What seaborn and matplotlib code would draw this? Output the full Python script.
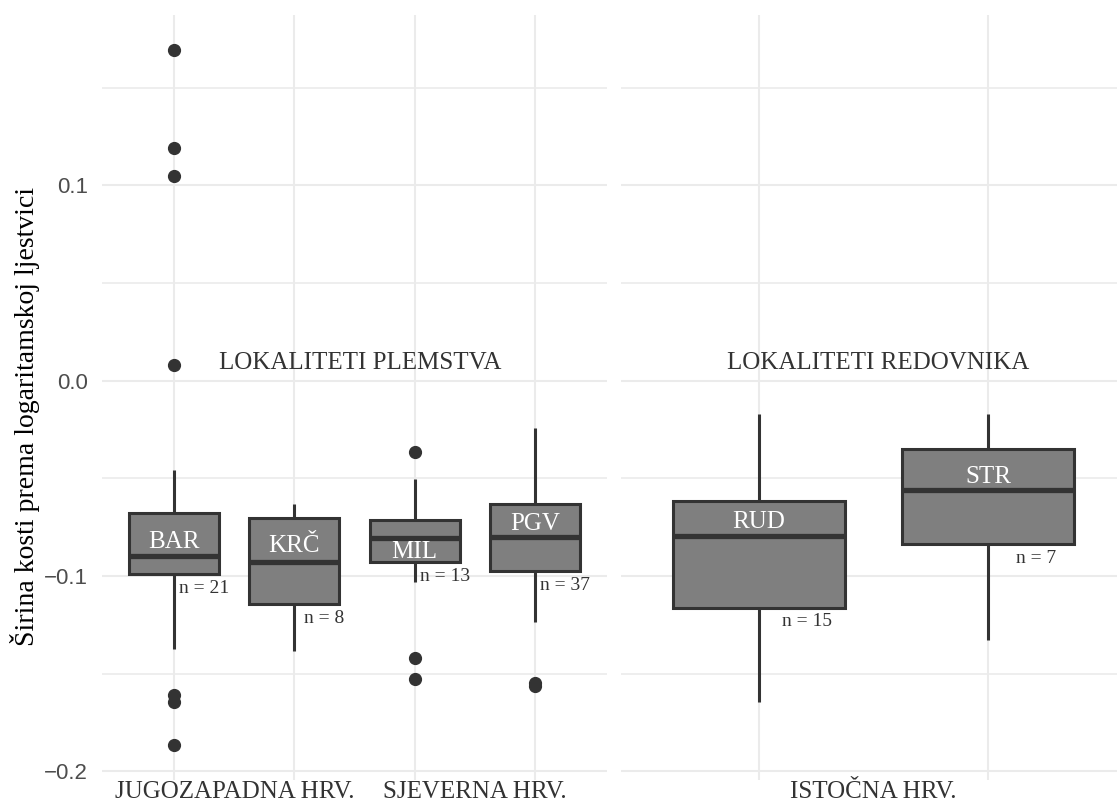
import numpy as np
import pandas as pd
import matplotlib.pyplot as plt
import seaborn as sns

# bone width on log scale, one list per site
bar = [-0.1867, -0.1645, -0.161, -0.1374, -0.118, -0.099, -0.097, -0.095, -0.093, -0.091,
       -0.090, -0.086, -0.081, -0.077, -0.072, -0.068, -0.046, 0.0082, 0.105, 0.119, 0.1694]
krc = [-0.1383, -0.118, -0.1134, -0.100, -0.086, -0.072, -0.0644, -0.0631]
mil = [-0.1526, -0.142, -0.1033, -0.093, -0.089, -0.085, -0.0807, -0.077, -0.074,
       -0.0715, -0.060, -0.0506, -0.0366]
pgv = [-0.1562, -0.1547, -0.1238, -0.118, -0.112, -0.108, -0.104, -0.101, -0.099, -0.0976,
       -0.096, -0.094, -0.092, -0.090, -0.088, -0.086, -0.084, -0.082, -0.0803,
       -0.079, -0.077, -0.075, -0.073, -0.071, -0.069, -0.067, -0.065, -0.0631,
       -0.060, -0.057, -0.054, -0.050, -0.046, -0.041, -0.035, -0.030, -0.0243]
rud = [-0.1648, -0.140, -0.125, -0.1184, -0.1144, -0.105, -0.092, -0.0798, -0.075, -0.068,
       -0.0635, -0.0595, -0.045, -0.030, -0.0169]
stra = [-0.1327, -0.0869, -0.0809, -0.0559, -0.0382, -0.0322, -0.0169]

left_sites = ['BAR', 'KRČ', 'MIL', 'PGV']
right_sites = ['RUD', 'STR']
left_regions = ['JUGOZAPADNA HRV.', 'SJEVERNA HRV.']
right_regions = ['ISTOČNA HRV.']
panel_titles = ['LOKALITETI PLEMSTVA', 'LOKALITETI REDOVNIKA']

values = {'BAR': bar, 'KRČ': krc, 'MIL': mil, 'PGV': pgv, 'RUD': rud, 'STR': stra}
df = pd.DataFrame([(s, v) for s, vals in values.items() for v in vals],
                  columns=['site', 'value'])

# where the white site name sits relative to the median
label_offset = {'BAR': 0.0075, 'KRČ': 0.0084, 'MIL': -0.007, 'PGV': 0.007,
                'RUD': 0.0075, 'STR': 0.0067}

sns.set_style('white')
plt.rcParams['font.family'] = ['Liberation Serif', 'DejaVu Serif']

W, H = 1117, 805
fig = plt.figure(figsize=(W / 100, H / 100), dpi=100)
ax1 = fig.add_axes([102 / W, 25 / H, 505 / W, 765 / H])
ax2 = fig.add_axes([621 / W, 25 / H, 505 / W, 765 / H])

lo, hi = df['value'].min(), df['value'].max()
pad = (hi - lo) * 0.05
ylim = (lo - pad, hi + pad)

dark = '#333333'
panels = [(ax1, left_sites, left_regions, panel_titles[0], 1.55, 0.25),
          (ax2, right_sites, right_regions, panel_titles[1], 0.52, 0.21)]

for ax, sites, regions, title, title_x, n_dx in panels:
    sns.boxplot(data=df[df['site'].isin(sites)], x='site', y='value', order=sites, ax=ax,
                color='#7F7F7F', saturation=1, width=0.75, linecolor=dark, linewidth=2.2,
                showcaps=False,
                medianprops=dict(color=dark, linewidth=3.8),
                flierprops=dict(marker='o', markerfacecolor=dark, markeredgecolor=dark,
                                markersize=8.5))
    ax.set_xlim(-0.6, len(sites) - 0.4)
    ax.set_ylim(ylim)
    ax.set_xlabel('')
    ax.set_ylabel('')
    ax.set_yticks([-0.2, -0.1, 0.0, 0.1])
    ax.set_yticks([-0.15, -0.05, 0.05, 0.15], minor=True)
    ax.set_xticks(range(len(sites)), [''] * len(sites))
    ax.set_xticks(np.arange(len(regions)) * 2 + 0.5, regions, minor=True)
    ax.grid(which='major', color='#EBEBEB', linewidth=1.5)
    ax.grid(which='minor', axis='y', color='#EBEBEB', linewidth=1.2)
    ax.set_axisbelow(True)
    ax.tick_params(which='both', length=0)
    ax.tick_params(axis='x', which='minor', labelsize=18, labelcolor=dark, pad=1)
    ax.tick_params(axis='y', labelsize=16, labelcolor='#4D4D4D', pad=10,
                   labelfontfamily='Liberation Sans')
    for sp in ax.spines.values():
        sp.set_visible(False)

    for i, s in enumerate(sites):
        q1, med = np.percentile(values[s], [25, 50])
        ax.text(i, med + label_offset[s], s, color='white', ha='center', va='center',
                fontsize=18)
        ax.text(i + n_dx, q1 - 0.0072, f'n = {len(values[s])}', color=dark,
                ha='center', va='center', fontsize=14)
    ax.text(title_x, 0.0092, title, color=dark, ha='center', va='center', fontsize=18)

ax2.tick_params(axis='y', labelleft=False)

fig.text(25 / W, 1 - 416 / H, 'Širina kosti prema logaritamskoj ljestvici', rotation=90,
         ha='center', va='center', fontsize=20, color='black')

fig.savefig('out.png', dpi=100, facecolor='white')
